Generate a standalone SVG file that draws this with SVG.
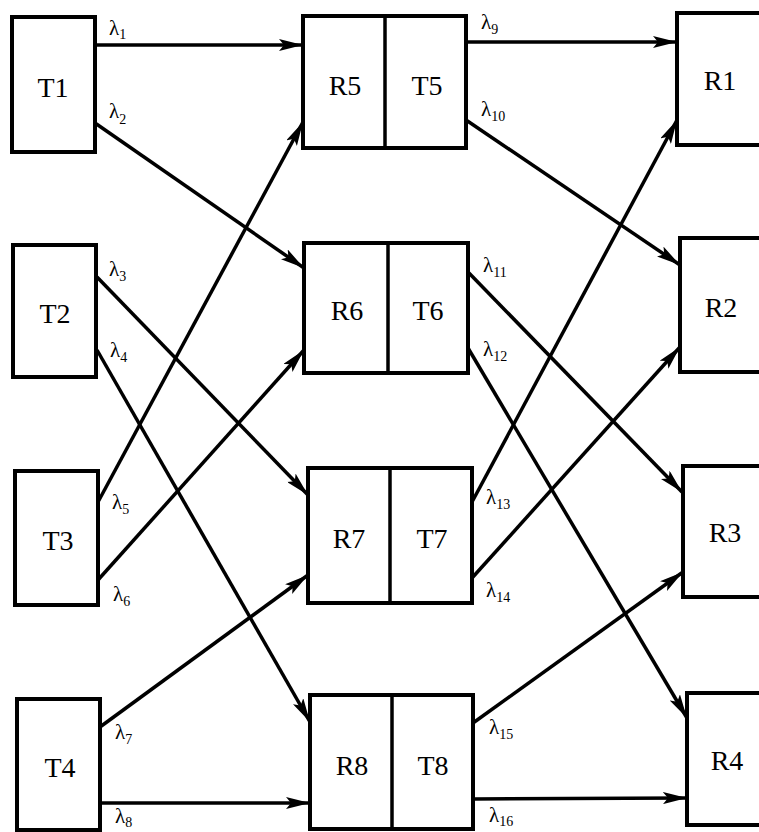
<svg xmlns="http://www.w3.org/2000/svg" width="759" height="832" viewBox="0 0 759 832">
<style>
.box{fill:#fff;stroke:#000;stroke-width:4}
.div{stroke:#000;stroke-width:3.5}
text{font-family:'Liberation Serif','Times New Roman',serif;fill:#000}
.lbl{font-size:28px;text-anchor:middle}
.lam{font-size:21px}
.sub{font-size:14px}
.edge{stroke:#000;stroke-width:3.5;fill:none;marker-end:url(#ah)}
</style>
<defs>
<marker id="ah" markerUnits="userSpaceOnUse" markerWidth="26" markerHeight="12" refX="24" refY="6" orient="auto">
<path d="M0,0 L24,6 L0,12 L5,6 z" fill="#000"/>
</marker>
</defs>
<rect width="759" height="832" fill="#fff"/>
<g id="connectors">
<line class="edge" x1="95" y1="45" x2="303" y2="45"/>
<line class="edge" x1="95" y1="123" x2="304" y2="268"/>
<line class="edge" x1="97" y1="277" x2="308" y2="495"/>
<line class="edge" x1="97" y1="350" x2="310" y2="722"/>
<line class="edge" x1="98" y1="502" x2="303" y2="122"/>
<line class="edge" x1="98" y1="580" x2="304" y2="350"/>
<line class="edge" x1="100" y1="727" x2="308" y2="575"/>
<line class="edge" x1="100" y1="803" x2="310" y2="803"/>
<line class="edge" x1="466" y1="42" x2="677" y2="42"/>
<line class="edge" x1="466" y1="120" x2="680" y2="265"/>
<line class="edge" x1="468" y1="272" x2="682" y2="492"/>
<line class="edge" x1="468" y1="348" x2="687" y2="718"/>
<line class="edge" x1="472" y1="502" x2="677" y2="120"/>
<line class="edge" x1="472" y1="578" x2="680" y2="347"/>
<line class="edge" x1="473" y1="723" x2="683" y2="572"/>
<line class="edge" x1="473" y1="799" x2="687" y2="798"/>
</g>
<g id="labels">
<text class="lam" x="109" y="35">λ<tspan class="sub" dy="4">1</tspan></text>
<text class="lam" x="109" y="118">λ<tspan class="sub" dy="6">2</tspan></text>
<text class="lam" x="109" y="276">λ<tspan class="sub" dy="5">3</tspan></text>
<text class="lam" x="110" y="357">λ<tspan class="sub" dy="5">4</tspan></text>
<text class="lam" x="112" y="509">λ<tspan class="sub" dy="5">5</tspan></text>
<text class="lam" x="113" y="601">λ<tspan class="sub" dy="5">6</tspan></text>
<text class="lam" x="115" y="739">λ<tspan class="sub" dy="5">7</tspan></text>
<text class="lam" x="115" y="823">λ<tspan class="sub" dy="4">8</tspan></text>
<text class="lam" x="481" y="29">λ<tspan class="sub" dy="5">9</tspan></text>
<text class="lam" x="481" y="116">λ<tspan class="sub" dy="5">10</tspan></text>
<text class="lam" x="483" y="272">λ<tspan class="sub" dy="5">11</tspan></text>
<text class="lam" x="483" y="356">λ<tspan class="sub" dy="5">12</tspan></text>
<text class="lam" x="486" y="504">λ<tspan class="sub" dy="5">13</tspan></text>
<text class="lam" x="486" y="597">λ<tspan class="sub" dy="5">14</tspan></text>
<text class="lam" x="489" y="734">λ<tspan class="sub" dy="5">15</tspan></text>
<text class="lam" x="489" y="822">λ<tspan class="sub" dy="4">16</tspan></text>
</g>
<g id="T1"><rect class="box" x="12" y="17" width="83" height="135"/><text class="lbl" x="53" y="97">T1</text></g>
<g id="T2"><rect class="box" x="13" y="245" width="83" height="132"/><text class="lbl" x="55" y="323">T2</text></g>
<g id="T3"><rect class="box" x="15" y="471" width="83" height="134"/><text class="lbl" x="58" y="550">T3</text></g>
<g id="T4"><rect class="box" x="17" y="699" width="83" height="131"/><text class="lbl" x="60" y="777">T4</text></g>
<g id="R5T5"><rect class="box" x="303" y="16" width="163" height="132"/><line class="div" x1="385" y1="16" x2="385" y2="148"/><text class="lbl" x="345" y="95">R5</text><text class="lbl" x="427" y="95">T5</text></g>
<g id="R6T6"><rect class="box" x="304" y="243" width="164" height="130"/><line class="div" x1="388" y1="243" x2="388" y2="373"/><text class="lbl" x="347" y="320">R6</text><text class="lbl" x="428" y="320">T6</text></g>
<g id="R7T7"><rect class="box" x="308" y="468" width="164" height="135"/><line class="div" x1="390" y1="468" x2="390" y2="603"/><text class="lbl" x="349" y="548">R7</text><text class="lbl" x="432" y="548">T7</text></g>
<g id="R8T8"><rect class="box" x="310" y="695" width="163" height="134"/><line class="div" x1="392" y1="695" x2="392" y2="829"/><text class="lbl" x="352" y="775">R8</text><text class="lbl" x="433" y="775">T8</text></g>
<g id="R1"><rect class="box" x="677" y="13" width="90" height="132"/><text class="lbl" x="720" y="90">R1</text></g>
<g id="R2"><rect class="box" x="680" y="238" width="90" height="134"/><text class="lbl" x="721" y="317">R2</text></g>
<g id="R3"><rect class="box" x="683" y="466" width="90" height="131"/><text class="lbl" x="725" y="542">R3</text></g>
<g id="R4"><rect class="box" x="687" y="693" width="90" height="132"/><text class="lbl" x="727" y="770">R4</text></g>
</svg>
